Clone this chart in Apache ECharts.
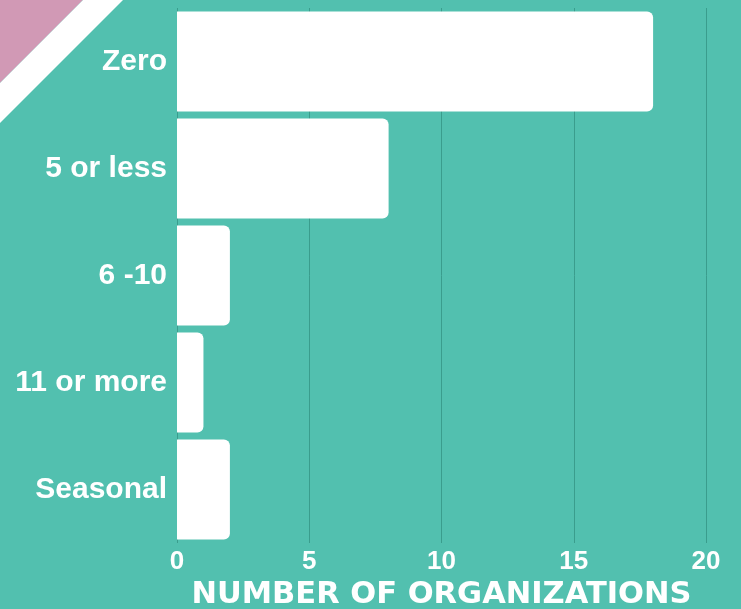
<!DOCTYPE html>
<html>
<head>
<meta charset="utf-8">
<script src="https://cdn.jsdelivr.net/npm/echarts@6/dist/echarts.min.js"></script>
<style>
html,body{margin:0;padding:0;background:#52c0af;}
#chart{width:741px;height:609px;}
</style>
</head>
<body>
<div id="chart"></div>
<script>
var categories = ['Zero', '5 or less', '6 -10', '11 or more', 'Seasonal'];
var values = [18, 8, 2, 1, 2];
var xTicks = [0, 5, 10, 15, 20];
var axisTitle = 'NUMBER OF ORGANIZATIONS';

var chart = echarts.init(document.getElementById('chart'), null, {renderer: 'canvas'});
chart.setOption({
  backgroundColor: '#52c0af',
  animation: false,
  grid: {left: 177, right: 35, top: 8, bottom: 66, containLabel: false, outerBoundsMode: 'none'},
  graphic: [
    {type: 'polygon', shape: {points: [[0,0],[83,0],[0,83]]}, style: {fill: '#d199b5'}, z: 10},
    {type: 'polygon', shape: {points: [[83,0],[123,0],[0,123],[0,83]]}, style: {fill: '#ffffff'}, z: 10}
  ],
  xAxis: {
    type: 'value',
    min: xTicks[0], max: xTicks[xTicks.length - 1], interval: 5,
    axisLine: {show: false},
    axisTick: {show: false},
    splitLine: {show: true, lineStyle: {color: '#3a9d8d', width: 1}},
    axisLabel: {color: '#ffffff', fontFamily: 'Liberation Sans', fontWeight: 'bold', fontSize: 26, margin: 6},
    name: axisTitle,
    nameLocation: 'middle',
    nameGap: 37,
    nameTextStyle: {color: '#ffffff', fontFamily: 'DejaVu Sans', fontWeight: 'bold', fontSize: 30.5}
  },
  yAxis: {
    type: 'category',
    data: categories,
    inverse: true,
    axisLine: {show: false},
    axisTick: {show: false},
    axisLabel: {color: '#ffffff', fontFamily: 'Liberation Sans', fontWeight: 'bold', fontSize: 30, margin: 10}
  },
  series: [{
    type: 'bar',
    data: values,
    barCategoryGap: '6.5%',
    itemStyle: {color: '#ffffff', borderRadius: [0, 6, 6, 0]},
    z: 3
  }]
});
</script>
</body>
</html>
